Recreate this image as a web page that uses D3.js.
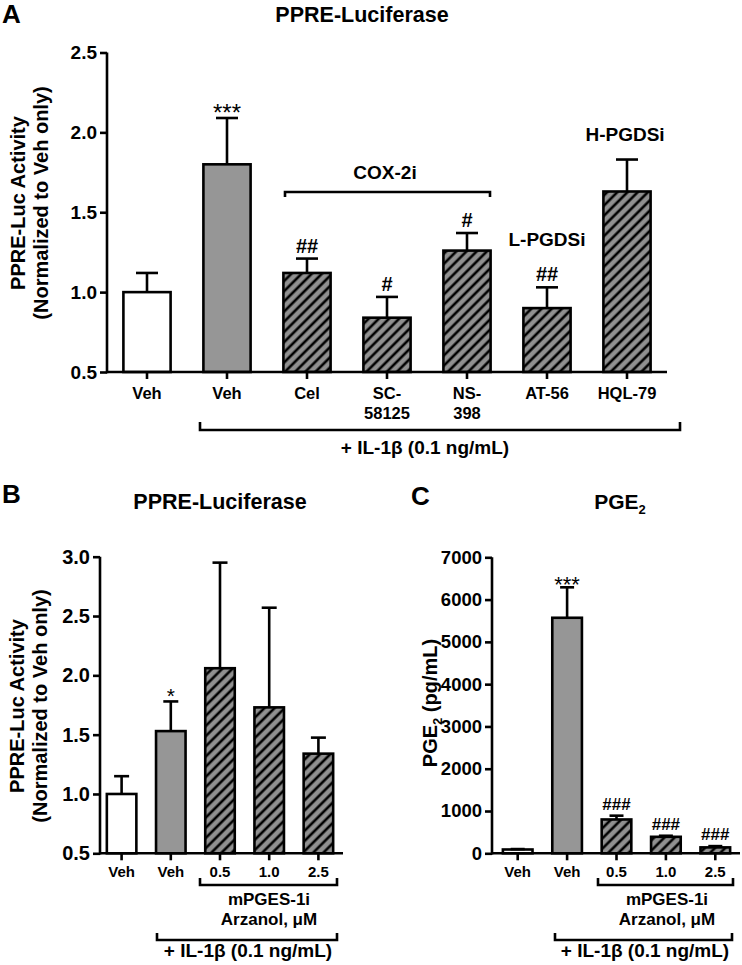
<!DOCTYPE html>
<html>
<head>
<meta charset="utf-8">
<script src="https://cdn.jsdelivr.net/npm/d3@7"></script>
<style>
  html, body { margin: 0; padding: 0; background: #fff; }
  text { font-family: "Liberation Sans", Arial, sans-serif; font-weight: bold; fill: #000; }
</style>
</head>
<body>
<script>
// ---------------- DATA ----------------
// Panel A
const labelsA = [["Veh"], ["Veh"], ["Cel"], ["SC-", "58125"], ["NS-", "398"], ["AT-56"], ["HQL-79"]];
const valuesA = [1.00, 1.80, 1.12, 0.84, 1.26, 0.90, 1.63];
const semA    = [0.12, 0.29, 0.09, 0.13, 0.11, 0.13, 0.20];
const groupsA = ["veh", "il1b", "inh", "inh", "inh", "inh", "inh"];
const sigA    = ["", "***", "##", "#", "#", "##", ""];
const yTicksA = [0.5, 1.0, 1.5, 2.0, 2.5];

// Panel B
const labelsB = [["Veh"], ["Veh"], ["0.5"], ["1.0"], ["2.5"]];
const valuesB = [1.00, 1.53, 2.06, 1.73, 1.34];
const semB    = [0.15, 0.25, 0.89, 0.84, 0.135];
const groupsB = ["veh", "il1b", "inh", "inh", "inh"];
const sigB    = ["", "*", "", "", ""];
const yTicksB = [0.5, 1.0, 1.5, 2.0, 2.5, 3.0];

// Panel C
const labelsC = [["Veh"], ["Veh"], ["0.5"], ["1.0"], ["2.5"]];
const valuesC = [90, 5570, 800, 390, 140];
const semC    = [10, 720, 90, 25, 30];
const groupsC = ["veh", "il1b", "inh", "inh", "inh"];
const sigC    = ["", "***", "###", "###", "###"];
const yTicksC = [0, 1000, 2000, 3000, 4000, 5000, 6000, 7000];

// ---------------- DRAWING ----------------
const W = 742, H = 965;
const svg = d3.select("body").append("svg").attr("width", W).attr("height", H);

const defs = svg.append("defs");
const pat = defs.append("pattern").attr("id", "hatch")
  .attr("patternUnits", "userSpaceOnUse")
  .attr("width", 7.2).attr("height", 7.2)
  .attr("patternTransform", "rotate(45)");
pat.append("rect").attr("width", 7.2).attr("height", 7.2).attr("fill", "#909090");
pat.append("line").attr("x1", 3.6).attr("y1", -1).attr("x2", 3.6).attr("y2", 8.2)
  .attr("stroke", "#000").attr("stroke-width", 2.6);

const fillFor = g => g === "veh" ? "#ffffff" : g === "il1b" ? "#969696" : "url(#hatch)";
const LW = 2.6;

function drawPanel(o) {
  const g = svg.append("g");
  const y = d3.scaleLinear().domain(o.domain).range(o.yRange);
  const x = d3.scaleBand().domain(d3.range(o.values.length))
    .range(o.xRange).paddingInner(o.pad).paddingOuter(o.pad / 2);
  const bw = x.bandwidth();
  const base = y(o.domain[0]);

  // bars
  g.selectAll("rect.bar").data(o.values).join("rect").attr("class", "bar")
    .attr("x", (d, i) => x(i)).attr("width", bw)
    .attr("y", d => y(d)).attr("height", d => base - y(d))
    .attr("fill", (d, i) => fillFor(o.groups[i]))
    .attr("stroke", "#000").attr("stroke-width", LW);

  // error bars (upper)
  o.values.forEach((v, i) => {
    const cx = x(i) + bw / 2;
    const top = y(v + o.sem[i]);
    g.append("line").attr("x1", cx).attr("x2", cx).attr("y1", y(v)).attr("y2", top)
      .attr("stroke", "#000").attr("stroke-width", LW);
    g.append("line").attr("x1", cx - o.cap / 2).attr("x2", cx + o.cap / 2).attr("y1", top).attr("y2", top)
      .attr("stroke", "#000").attr("stroke-width", LW);
    const s = o.sig[i];
    if (s) {
      const star = s[0] === "*";
      g.append("text").attr("x", cx).attr("y", top + (star ? o.starOff : o.hashOff))
        .attr("text-anchor", "middle")
        .style("font-size", (star ? o.starSize : o.hashSize) + "px")
        .style("font-weight", star ? "normal" : "bold")
        .text(s);
    }
  });

  // y axis
  const ya = g.append("g").attr("transform", `translate(${o.yAxisX},0)`)
    .call(d3.axisLeft(y).tickValues(o.yTicks).tickSize(7).tickSizeOuter(0).tickPadding(3)
      .tickFormat(o.fmt));
  ya.selectAll("path,line").attr("stroke", "#000").attr("stroke-width", LW);
  ya.select(".domain").attr("d", `M0,${base + LW / 2}V${y(o.domain[1])}`);
  ya.selectAll("text").attr("fill", "#000").style("font-size", o.tickSize + "px")
    .style("font-family", '"Liberation Sans", Arial, sans-serif').style("font-weight", "bold");

  // x axis
  const xa = g.append("g").attr("transform", `translate(0,${base})`)
    .call(d3.axisBottom(x).tickSize(7).tickSizeOuter(0).tickFormat(""));
  xa.selectAll("line").attr("stroke", "#000").attr("stroke-width", LW);
  xa.select(".domain").attr("d", `M${o.yAxisX},0H${o.xRange[1]}`)
    .attr("stroke", "#000").attr("stroke-width", LW);

  // x labels
  o.labels.forEach((lines, i) => {
    const t = g.append("text").attr("x", x(i) + bw / 2).attr("y", o.labelY)
      .attr("text-anchor", "middle").style("font-size", o.labelSize + "px");
    lines.forEach((ln, k) => t.append("tspan").attr("x", x(i) + bw / 2)
      .attr("dy", k === 0 ? 0 : o.labelLH).text(ln));
  });
  return { g, x, y };
}

function bracket(g, x1, x2, yv, dir, len) {
  g.append("path")
    .attr("d", `M${x1},${yv + dir * len}V${yv}H${x2}V${yv + dir * len}`)
    .attr("fill", "none").attr("stroke", "#000").attr("stroke-width", LW);
}
function label(g, txt, x, y, size, anchor) {
  return g.append("text").attr("x", x).attr("y", y).attr("text-anchor", anchor || "middle")
    .style("font-size", size + "px").text(txt);
}
function yLabel(g, lines, xs, cy, size) {
  lines.forEach((ln, k) => {
    g.append("text").attr("transform", `translate(${xs[k]},${cy}) rotate(-90)`)
      .attr("text-anchor", "middle").style("font-size", size + "px").text(ln);
  });
}

// ----- Panel A -----
const A = drawPanel({
  values: valuesA, sem: semA, groups: groupsA, sig: sigA, labels: labelsA, yTicks: yTicksA,
  domain: [0.5, 2.5], yRange: [372, 52.5], xRange: [107, 667], yAxisX: 107, pad: 0.41,
  cap: 22, fmt: d3.format(".1f"), tickSize: 19, labelY: 399, labelLH: 20, labelSize: 16.5,
  starOff: 3, hashOff: -6, starSize: 24, hashSize: 20
});
label(A.g, "A", 2, 23, 26, "start");
label(A.g, "PPRE-Luciferase", 362, 22, 21.5);
yLabel(A.g, ["PPRE-Luc Activity", "(Normalized to Veh only)"], [25, 48], 203, 20);
bracket(A.g, 285, 490, 192, 1, 5);
label(A.g, "COX-2i", 385, 179, 19);
label(A.g, "L-PGDSi", 547, 246, 19);
label(A.g, "H-PGDSi", 625, 141, 19);
bracket(A.g, 200, 680, 430, -1, 8);
label(A.g, "+ IL-1β (0.1 ng/mL)", 425, 454, 19);

// ----- Panel B -----
const B = drawPanel({
  values: valuesB, sem: semB, groups: groupsB, sig: sigB, labels: labelsB, yTicks: yTicksB,
  domain: [0.5, 3.0], yRange: [853.3, 556.7], xRange: [97, 343], yAxisX: 100, pad: 0.4,
  cap: 15, fmt: d3.format(".1f"), tickSize: 20, labelY: 877, labelLH: 18, labelSize: 15,
  starOff: 2, hashOff: -6, starSize: 21, hashSize: 17
});
label(B.g, "B", 2, 503, 26, "start");
label(B.g, "PPRE-Luciferase", 220, 509, 21.5);
yLabel(B.g, ["PPRE-Luc Activity", "(Normalized to Veh only)"], [24, 47], 706, 20);
bracket(B.g, 200, 337, 885, -1, 7);
label(B.g, "mPGES-1i", 269, 905, 17);
label(B.g, "Arzanol, μM", 269, 925, 17);
bracket(B.g, 157, 337, 940, -1, 7);
label(B.g, "+ IL-1β (0.1 ng/mL)", 248, 957, 19);

// ----- Panel C -----
const C = drawPanel({
  values: valuesC, sem: semC, groups: groupsC, sig: sigC, labels: labelsC, yTicks: yTicksC,
  domain: [0, 7000], yRange: [853.3, 557.3], xRange: [493, 740], yAxisX: 492, pad: 0.4,
  cap: 14, fmt: d3.format("d"), tickSize: 18.5, labelY: 877, labelLH: 18, labelSize: 15,
  starOff: 5, hashOff: -6, starSize: 22, hashSize: 17
});
label(C.g, "C", 411, 505, 26, "start");
const tC = label(C.g, "PGE", 620, 509, 21);
tC.append("tspan").attr("dy", 5).style("font-size", "13px").text("2");
const yl = C.g.append("text").attr("transform", "translate(437,703) rotate(-90)")
  .attr("text-anchor", "middle").style("font-size", "20px");
yl.append("tspan").text("PGE");
yl.append("tspan").attr("dy", 5).style("font-size", "13px").text("2");
yl.append("tspan").attr("dy", -5).text(" (pg/mL)");
bracket(C.g, 598, 733, 885, -1, 7);
label(C.g, "mPGES-1i", 667, 905, 17);
label(C.g, "Arzanol, μM", 667, 925, 17);
bracket(C.g, 555, 732, 940, -1, 7);
label(C.g, "+ IL-1β (0.1 ng/mL)", 645, 957, 19);
</script>
</body>
</html>
